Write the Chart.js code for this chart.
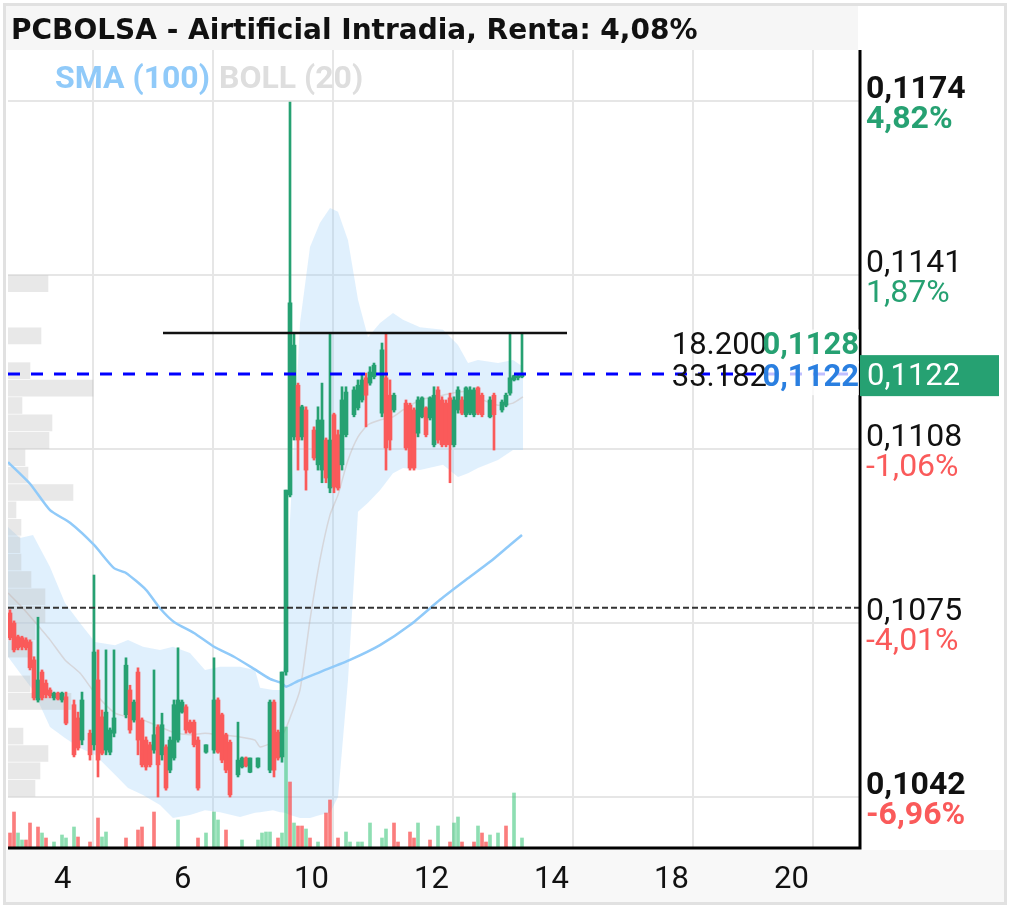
<!DOCTYPE html>
<html>
<head>
<meta charset="utf-8">
<title>PCBOLSA - Airtificial Intradia</title>
<script src="https://cdn.jsdelivr.net/npm/chart.js@4.4.0/dist/chart.umd.min.js"></script>
<style>
  html, body { margin: 0; padding: 0; background: #fff; }
  #wrap { width: 1013px; height: 908px; }
</style>
</head>
<body>
<div id="wrap"><canvas id="chart" width="1013" height="908"></canvas></div>
<script>
// Velas intradía (slot de tiempo, apertura, máximo, mínimo, cierre)
const candleSlot = [
  0, 1, 2, 3, 4, 5, 6, 7, 8, 9,
  10, 11, 12, 13, 14, 16, 17, 18, 20, 21,
  22, 23, 24, 25, 26, 29, 30, 31, 32, 33,
  34, 35, 36, 37, 38, 39, 40, 41, 42, 43,
  44, 45, 46, 47, 49, 51, 52, 53, 54, 55,
  57, 58, 59, 60, 62, 65, 66, 67, 68, 69,
  70, 71, 72, 73, 74, 76, 77, 78, 79, 80,
  81, 82, 83, 84, 86, 87, 88, 89, 90, 91,
  93, 94, 95, 96, 99, 100, 101, 102, 103, 104,
  105, 106, 107, 108, 109, 110, 111, 112, 113, 114,
  115, 116, 117, 118, 120, 121, 123, 124, 125, 126,
  127, 128
];
const candleOpen = [
  0.10769, 0.10750, 0.10724, 0.10722, 0.10718, 0.10714, 0.10680, 0.10604, 0.10657, 0.10636,
  0.10623, 0.10608, 0.10617, 0.10604, 0.10610, 0.10595, 0.10570, 0.10528, 0.10541, 0.10519,
  0.10642, 0.10572, 0.10509, 0.10505, 0.10541, 0.10576, 0.10623, 0.10566, 0.10657, 0.10566,
  0.10528, 0.10519, 0.10509, 0.10553, 0.10500, 0.10515, 0.10471, 0.10494, 0.10528, 0.10581,
  0.10591, 0.10562, 0.10562, 0.10528, 0.10505, 0.10509, 0.10604, 0.10576, 0.10538, 0.10524,
  0.10462, 0.10477, 0.10494, 0.10467, 0.10477, 0.10471, 0.10600, 0.10543, 0.10496, 0.10657,
  0.10993, 0.11103, 0.11201, 0.11103, 0.11154, 0.11116, 0.11050, 0.11040, 0.11097, 0.11006,
  0.11145, 0.11107, 0.11050, 0.11107, 0.11145, 0.11158, 0.11173, 0.11215, 0.11205, 0.11217,
  0.11148, 0.11215, 0.11182, 0.11154, 0.11167, 0.11163, 0.11154, 0.11110, 0.11141, 0.11158,
  0.11139, 0.11088, 0.11192, 0.11173, 0.11167, 0.11177, 0.11088, 0.11154, 0.11173, 0.11145,
  0.11148, 0.11145, 0.11196, 0.11182, 0.11141, 0.11182, 0.11154, 0.11163, 0.11186, 0.11211,
  0.11215, 0.11217
];
const candleHigh = [
  0.10775, 0.10754, 0.10727, 0.10725, 0.10722, 0.10718, 0.10686, 0.10761, 0.10661, 0.10642,
  0.10627, 0.10619, 0.10619, 0.10619, 0.10619, 0.10604, 0.10581, 0.10619, 0.10547, 0.10841,
  0.10699, 0.10585, 0.10699, 0.10551, 0.10699, 0.10684, 0.10632, 0.10604, 0.10665, 0.10570,
  0.10534, 0.10524, 0.10661, 0.10557, 0.10579, 0.10519, 0.10534, 0.10604, 0.10703, 0.10604,
  0.10595, 0.10566, 0.10566, 0.10534, 0.10519, 0.10684, 0.10608, 0.10579, 0.10541, 0.10528,
  0.10562, 0.10496, 0.10496, 0.10494, 0.10494, 0.10604, 0.10604, 0.10547, 0.10657, 0.11002,
  0.11738, 0.11300, 0.11205, 0.11163, 0.11160, 0.11122, 0.11160, 0.11205, 0.11101, 0.11300,
  0.11148, 0.11116, 0.11198, 0.11198, 0.11198, 0.11211, 0.11220, 0.11224, 0.11236, 0.11243,
  0.11281, 0.11300, 0.11211, 0.11186, 0.11173, 0.11167, 0.11158, 0.11179, 0.11179, 0.11160,
  0.11179, 0.11198, 0.11198, 0.11179, 0.11173, 0.11186, 0.11179, 0.11198, 0.11179, 0.11198,
  0.11198, 0.11196, 0.11198, 0.11186, 0.11179, 0.11186, 0.11173, 0.11186, 0.11300, 0.11220,
  0.11220, 0.11300
];
const candleLow = [
  0.10718, 0.10695, 0.10699, 0.10699, 0.10699, 0.10661, 0.10604, 0.10600, 0.10604, 0.10608,
  0.10608, 0.10604, 0.10604, 0.10600, 0.10557, 0.10496, 0.10509, 0.10519, 0.10490, 0.10509,
  0.10458, 0.10500, 0.10500, 0.10500, 0.10534, 0.10570, 0.10541, 0.10562, 0.10500, 0.10477,
  0.10471, 0.10477, 0.10503, 0.10420, 0.10490, 0.10433, 0.10466, 0.10490, 0.10524, 0.10579,
  0.10541, 0.10541, 0.10515, 0.10433, 0.10503, 0.10503, 0.10503, 0.10485, 0.10466, 0.10420,
  0.10458, 0.10475, 0.10477, 0.10466, 0.10475, 0.10466, 0.10458, 0.10490, 0.10486, 0.10651,
  0.10989, 0.11097, 0.11040, 0.11097, 0.11002, 0.11059, 0.11040, 0.11016, 0.11016, 0.10997,
  0.10997, 0.11002, 0.11040, 0.11103, 0.11141, 0.11154, 0.11169, 0.11122, 0.11201, 0.11213,
  0.11141, 0.11040, 0.11078, 0.11150, 0.11078, 0.11040, 0.11040, 0.11103, 0.11139, 0.11103,
  0.11135, 0.11084, 0.11091, 0.11084, 0.11084, 0.11016, 0.11084, 0.11148, 0.11145, 0.11141,
  0.11145, 0.11141, 0.11145, 0.11141, 0.11139, 0.11078, 0.11150, 0.11160, 0.11182, 0.11209,
  0.11211, 0.11215
];
const candleClose = [
  0.10722, 0.10699, 0.10703, 0.10705, 0.10703, 0.10665, 0.10608, 0.10642, 0.10608, 0.10614,
  0.10612, 0.10617, 0.10606, 0.10617, 0.10560, 0.10500, 0.10513, 0.10604, 0.10500, 0.10695,
  0.10490, 0.10503, 0.10581, 0.10547, 0.10570, 0.10670, 0.10547, 0.10600, 0.10528, 0.10481,
  0.10477, 0.10481, 0.10538, 0.10481, 0.10557, 0.10437, 0.10528, 0.10595, 0.10604, 0.10600,
  0.10547, 0.10543, 0.10519, 0.10437, 0.10519, 0.10604, 0.10505, 0.10490, 0.10471, 0.10424,
  0.10490, 0.10494, 0.10479, 0.10494, 0.10494, 0.10600, 0.10471, 0.10494, 0.10657, 0.11002,
  0.11357, 0.11277, 0.11097, 0.11160, 0.11040, 0.11063, 0.11135, 0.11135, 0.11025, 0.11097,
  0.11008, 0.11006, 0.11173, 0.11188, 0.11192, 0.11201, 0.11211, 0.11182, 0.11226, 0.11239,
  0.11268, 0.11082, 0.11097, 0.11182, 0.11082, 0.11044, 0.11044, 0.11173, 0.11177, 0.11107,
  0.11177, 0.11182, 0.11097, 0.11088, 0.11088, 0.11088, 0.11173, 0.11192, 0.11148, 0.11196,
  0.11192, 0.11192, 0.11148, 0.11145, 0.11173, 0.11145, 0.11169, 0.11182, 0.11215, 0.11219,
  0.11219, 0.11222
];

// Volumen por slot (1 = sube, 0 = baja)
const volSlot = [0, 1, 2, 3, 4, 5, 7, 8, 9, 11, 13, 14, 16, 17, 20, 22, 23, 24, 29, 32,
  33, 36, 42, 47, 49, 51, 52, 54, 58, 62, 63, 64, 65, 67, 68, 69, 70, 71, 72, 73,
  74, 75, 77, 79, 80, 82, 84, 85, 87, 88, 90, 93, 94, 96, 97, 100, 101, 102, 105, 107,
  110, 111, 112, 113, 116, 117, 118, 119, 120, 122, 124, 126, 128];
const volAmount = [15, 36, 15, 8, 8, 25, 21, 15, 10, 6, 13, 10, 21, 11, 6, 30, 11, 16, 10, 18,
  21, 36, 28, 10, 15, 36, 28, 18, 8, 8, 15, 16, 16, 10, 15, 121, 66, 25, 22, 22,
  19, 10, 6, 35, 48, 10, 16, 6, 6, 6, 25, 10, 19, 25, 6, 16, 10, 25, 8, 22,
  6, 25, 31, 6, 6, 22, 15, 6, 13, 15, 22, 55, 10];
const volUp = [0, 0, 1, 1, 0, 0, 0, 1, 0, 1, 1, 1, 1, 0, 0, 0, 1, 1, 0, 0,
  0, 0, 1, 0, 1, 1, 1, 0, 1, 1, 1, 1, 1, 0, 1, 1, 0, 1, 0, 0,
  1, 0, 1, 0, 0, 0, 1, 1, 1, 1, 1, 1, 1, 0, 0, 0, 0, 1, 0, 1,
  0, 1, 1, 0, 0, 1, 0, 0, 1, 1, 0, 1, 1];

// Perfil de volumen por precio
const profilePrice = [0.113935, 0.112945, 0.112285, 0.111955, 0.111625, 0.111295, 0.110965, 0.110635,
  0.110305, 0.109975, 0.109645, 0.109315, 0.108985, 0.108655, 0.108325, 0.107995, 0.107665,
  0.107335, 0.107005, 0.106345, 0.106015, 0.105355, 0.105025, 0.104695, 0.104365];
const profileVol = [40, 33, 22, 85, 14, 44, 41, 17, 20, 65, 8, 13, 12, 13, 23, 37, 37,
  27, 25, 22, 63, 15, 40, 32, 27];

// SMA (100)
const smaSlot = [-0.5, 5, 10, 15, 21, 26, 29, 34, 37.5, 41, 46, 51, 56, 61, 65, 68, 69, 72,
  77.5, 85, 92.5, 100, 107.5, 114, 120, 125, 128];
const smaValue = [0.11055, 0.11014, 0.10964, 0.10940, 0.10898, 0.10854, 0.10845, 0.10813, 0.10778,
  0.10752, 0.10731, 0.10705, 0.10686, 0.10663, 0.10644, 0.10636, 0.10629, 0.10640,
  0.10657, 0.10680, 0.10708, 0.10746, 0.10794, 0.10832, 0.10866, 0.10898, 0.10917];

// BOLL (20)
const bollSlot = [-0.5, 2.5, 5.75, 10, 13.75, 17.5, 21.25, 26.25, 29.5, 33.25, 37.5, 40.75, 45,
  48.75, 52.5, 57.5, 61.25, 62.5, 65.75, 67.5, 68.75, 70, 72.5, 75, 77.5, 80, 82, 84.5,
  87, 89.5, 92.5, 95.75, 98.25, 102.5, 108.25, 112, 114.5, 117, 122, 125.75, 128.25];
const bollUpper = [0.10932, 0.10911, 0.10917, 0.10856, 0.10788, 0.10750, 0.10714, 0.10708, 0.10718,
  0.10705, 0.10699, 0.10705, 0.10693, 0.10661, 0.10667, 0.10667, 0.10661, 0.10627, 0.10623,
  0.10623, 0.10680, 0.10945, 0.11319, 0.11463, 0.11509, 0.11537, 0.11530, 0.11476, 0.11363,
  0.11292, 0.11319, 0.11338, 0.11325, 0.11311, 0.11306, 0.11277, 0.11243, 0.11249, 0.11243,
  0.11249, 0.11236];
const bollMid = [0.10807, 0.10784, 0.10756, 0.10718, 0.10680, 0.10655, 0.10617, 0.10579, 0.10572,
  0.10566, 0.10553, 0.10543, 0.10538, 0.10541, 0.10538, 0.10534, 0.10528, 0.10515, 0.10524,
  0.10532, 0.10547, 0.10570, 0.10623, 0.10756, 0.10870, 0.10955, 0.10993, 0.11059, 0.11103,
  0.11126, 0.11135, 0.11141, 0.11154, 0.11173, 0.11182, 0.11188, 0.11188, 0.11177, 0.11163,
  0.11167, 0.11179];
const bollLower = [0.10686, 0.10655, 0.10623, 0.10553, 0.10532, 0.10513, 0.10500, 0.10462, 0.10437,
  0.10424, 0.10405, 0.10380, 0.10386, 0.10395, 0.10391, 0.10382, 0.10390, 0.10391, 0.10395,
  0.10391, 0.10390, 0.10386, 0.10380, 0.10380, 0.10386, 0.10390, 0.10420, 0.10642, 0.10961,
  0.10978, 0.11002, 0.11034, 0.11044, 0.11040, 0.11050, 0.11027, 0.11034, 0.11044, 0.11059,
  0.11078, 0.11078];

// Ejes
const timeSlots = [20.75, 50.75, 80.75, 110.75, 140.75, 170.75, 200.75];
const timeLabels = ['4', '6', '10', '12', '14', '18', '20'];
const priceTicks = [0.1174, 0.1141, 0.1108, 0.1075, 0.1042];
const priceLabels = ['0,1174', '0,1141', '0,1108', '0,1075', '0,1042'];
const pctLabels = ['4,82%', '1,87%', '-1,06%', '-4,01%', '-6,96%'];

// Niveles
const lastPrice = 0.11222;
const lastLabel = '0,1122';
const highLevel = 0.1130;
const highFrom = 38.25, highTo = 139.25;
const refLevel = 0.10779;
const bookQty = ['18.200', '33.182'];
const bookPrice = ['0,1128', '0,1122'];
const bookLevel = [0.1128, 0.1122];

const X_MIN = -0.5, X_MAX = 212.5;
const UP = '#26a172', DOWN = '#fa5a5a';
const FONT = 'Roboto, "Noto Sans", sans-serif';
const TITLE_FONT = '"DejaVu Sans", "Open Sans", sans-serif';

const candleColors = candleOpen.map((o, k) => candleClose[k] >= o ? UP : DOWN);

const overlay = {
    id: 'overlay',
    beforeDraw(chart) {
        const c = chart.ctx;
        c.save();
        c.fillStyle = '#ffffff';
        c.fillRect(0, 0, chart.width, chart.height);
        c.fillStyle = '#f8f8f8';
        c.fillRect(5, 850, 1000, 53);
        c.fillStyle = '#f6f6f6';
        c.fillRect(5, 5, 853, 45);
        c.strokeStyle = '#e1e1e1';
        c.lineWidth = 3;
        c.strokeRect(4.5, 4.5, 1001, 899);
        c.restore();
    },
    afterDraw(chart) {
        const c = chart.ctx;
        const area = chart.chartArea;
        const xs = chart.scales.x;
        const ys = chart.scales.y;
        c.save();

        // título
        c.textBaseline = 'alphabetic';
        c.textAlign = 'left';
        c.fillStyle = '#111';
        c.font = 'bold 28px ' + TITLE_FONT;
        c.fillText('PCBOLSA - Airtificial Intradia, Renta: 4,08%', 11, 39);

        // leyenda de indicadores
        c.font = 'bold 32px ' + FONT;
        c.fillStyle = '#90caf9';
        c.fillText('SMA (100)', 55, 88);
        const w = c.measureText('SMA (100)').width;
        c.fillStyle = '#dedede';
        c.fillText('BOLL (20)', 55 + w + 9, 88);

        // bordes del eje
        c.strokeStyle = '#000';
        c.lineWidth = 3;
        c.beginPath();
        c.moveTo(area.right, area.top);
        c.lineTo(area.right, area.bottom);
        c.moveTo(area.left, area.bottom);
        c.lineTo(area.right + 1.5, area.bottom);
        c.stroke();

        // etiquetas de precio a la derecha
        c.textBaseline = 'middle';
        priceTicks.forEach((v, k) => {
            const y = ys.getPixelForValue(v);
            const strong = k === 0 || k === priceTicks.length - 1;
            c.font = (strong ? 'bold ' : '') + '32px ' + FONT;
            c.fillStyle = '#111';
            c.fillText(priceLabels[k], area.right + 6, y - 11);
            c.fillStyle = pctLabels[k].startsWith('-') ? DOWN : UP;
            c.fillText(pctLabels[k], area.right + 6, y + 19);
        });

        // caja del último precio
        const yl = ys.getPixelForValue(lastPrice);
        c.fillStyle = UP;
        c.fillRect(area.right, yl - 19, 139, 41);
        c.fillStyle = '#fff';
        c.font = '31px ' + FONT;
        c.fillText(lastLabel, area.right + 7, yl + 3);

        // libro de órdenes
        bookQty.forEach((q, k) => {
            const y = ys.getPixelForValue(bookLevel[k]) + 3;
            c.fillStyle = 'rgba(255,255,255,0.75)';
            c.fillRect(766, y - 17, area.right - 767, 34);
            c.textAlign = 'right';
            c.font = '31px ' + FONT;
            c.fillStyle = '#111';
            c.fillText(q, 767, y);
            c.font = 'bold 31px ' + FONT;
            c.fillStyle = k === 0 ? UP : '#2a7fe0';
            c.fillText(bookPrice[k], area.right - 1, y);
        });

        // etiquetas de hora
        c.textAlign = 'left';
        c.font = '31px ' + FONT;
        c.fillStyle = '#111';
        timeSlots.forEach((v, k) => {
            c.fillText(timeLabels[k], xs.getPixelForValue(v) - 39, 880);
        });
        c.restore();
    }
};

new Chart(document.getElementById('chart'), {
    type: 'bar',
    data: {
        datasets: [
            {
                type: 'line', label: 'BOLL sup',
                data: bollSlot.map((x, k) => ({ x, y: bollUpper[k] })),
                borderWidth: 0, borderColor: 'rgba(0,0,0,0)', pointRadius: 0,
                fill: '+1', backgroundColor: 'rgba(144,202,249,0.28)', order: 10
            },
            {
                type: 'line', label: 'BOLL inf',
                data: bollSlot.map((x, k) => ({ x, y: bollLower[k] })),
                borderWidth: 0, borderColor: 'rgba(0,0,0,0)', pointRadius: 0,
                fill: false, order: 10
            },
            {
                type: 'bar', label: 'Perfil', indexAxis: 'y', xAxisID: 'xp', yAxisID: 'y',
                data: profilePrice.map((p, k) => ({ x: profileVol[k], y: p })),
                barThickness: 16, grouped: false,
                backgroundColor: 'rgba(185,185,185,0.33)', order: 9
            },
            {
                type: 'line', label: 'BOLL med',
                data: bollSlot.map((x, k) => ({ x, y: bollMid[k] })),
                borderColor: 'rgba(195,165,155,0.35)', borderWidth: 1.5, pointRadius: 0,
                fill: false, tension: 0.2, order: 8
            },
            {
                type: 'line', label: 'SMA (100)',
                data: smaSlot.map((x, k) => ({ x, y: smaValue[k] })),
                borderColor: '#90caf9', borderWidth: 2.5, pointRadius: 0,
                fill: false, tension: 0.2, order: 7
            },
            {
                type: 'bar', label: 'Volumen', yAxisID: 'yv',
                data: volSlot.map((x, k) => ({ x, y: volAmount[k] })),
                barThickness: 3, grouped: false,
                backgroundColor: volUp.map(u => u ? 'rgba(50,195,115,0.55)' : 'rgba(250,70,70,0.7)'),
                order: 6
            },
            {
                type: 'bar', label: 'Mecha',
                data: candleSlot.map((x, k) => ({ x, y: [candleLow[k], candleHigh[k]] })),
                barThickness: 2, grouped: false, backgroundColor: candleColors, order: 5
            },
            {
                type: 'bar', label: 'Cuerpo',
                data: candleSlot.map((x, k) => ({ x, y: [candleOpen[k], candleClose[k]] })),
                barThickness: 4, grouped: false, backgroundColor: candleColors, order: 4
            },
            {
                type: 'line', label: 'Referencia',
                data: [{ x: X_MIN, y: refLevel }, { x: X_MAX, y: refLevel }],
                borderColor: '#333', borderWidth: 2, borderDash: [6, 3], pointRadius: 0,
                fill: false, order: 3
            },
            {
                type: 'line', label: 'Último',
                data: [{ x: X_MIN, y: lastPrice }, { x: X_MAX, y: lastPrice }],
                borderColor: '#0000ff', borderWidth: 3, borderDash: [12, 11], pointRadius: 0,
                fill: false, order: 2
            },
            {
                type: 'line', label: 'Máximo',
                data: [{ x: highFrom, y: highLevel }, { x: highTo, y: highLevel }],
                borderColor: '#111', borderWidth: 2.5, pointRadius: 0,
                fill: false, order: 1
            }
        ]
    },
    options: {
        responsive: false,
        animation: false,
        devicePixelRatio: 1,
        layout: { padding: { left: 8, top: 50, right: 153, bottom: 60 } },
        plugins: {
            legend: { display: false },
            tooltip: { enabled: false }
        },
        scales: {
            x: {
                type: 'linear', min: X_MIN, max: X_MAX, offset: false,
                grid: { color: '#e6e6e6', lineWidth: 2, drawTicks: false, offset: false },
                border: { display: false },
                ticks: { display: false },
                afterBuildTicks: s => { s.ticks = timeSlots.map(v => ({ value: v })); },
                afterFit: s => { s.height = 0; }
            },
            y: {
                type: 'linear', position: 'right', min: 0.103233, max: 0.118367, offset: false,
                grid: { color: '#e6e6e6', lineWidth: 2, drawTicks: false, offset: false },
                border: { display: false },
                ticks: { display: false },
                afterBuildTicks: s => { s.ticks = priceTicks.map(v => ({ value: v })); },
                afterFit: s => { s.width = 0; }
            },
            yv: { type: 'linear', axis: 'y', display: false, min: 0, max: 798, offset: false },
            xp: { type: 'linear', axis: 'x', display: false, min: 0, max: 852, offset: false }
        }
    },
    plugins: [overlay]
});
</script>
</body>
</html>
